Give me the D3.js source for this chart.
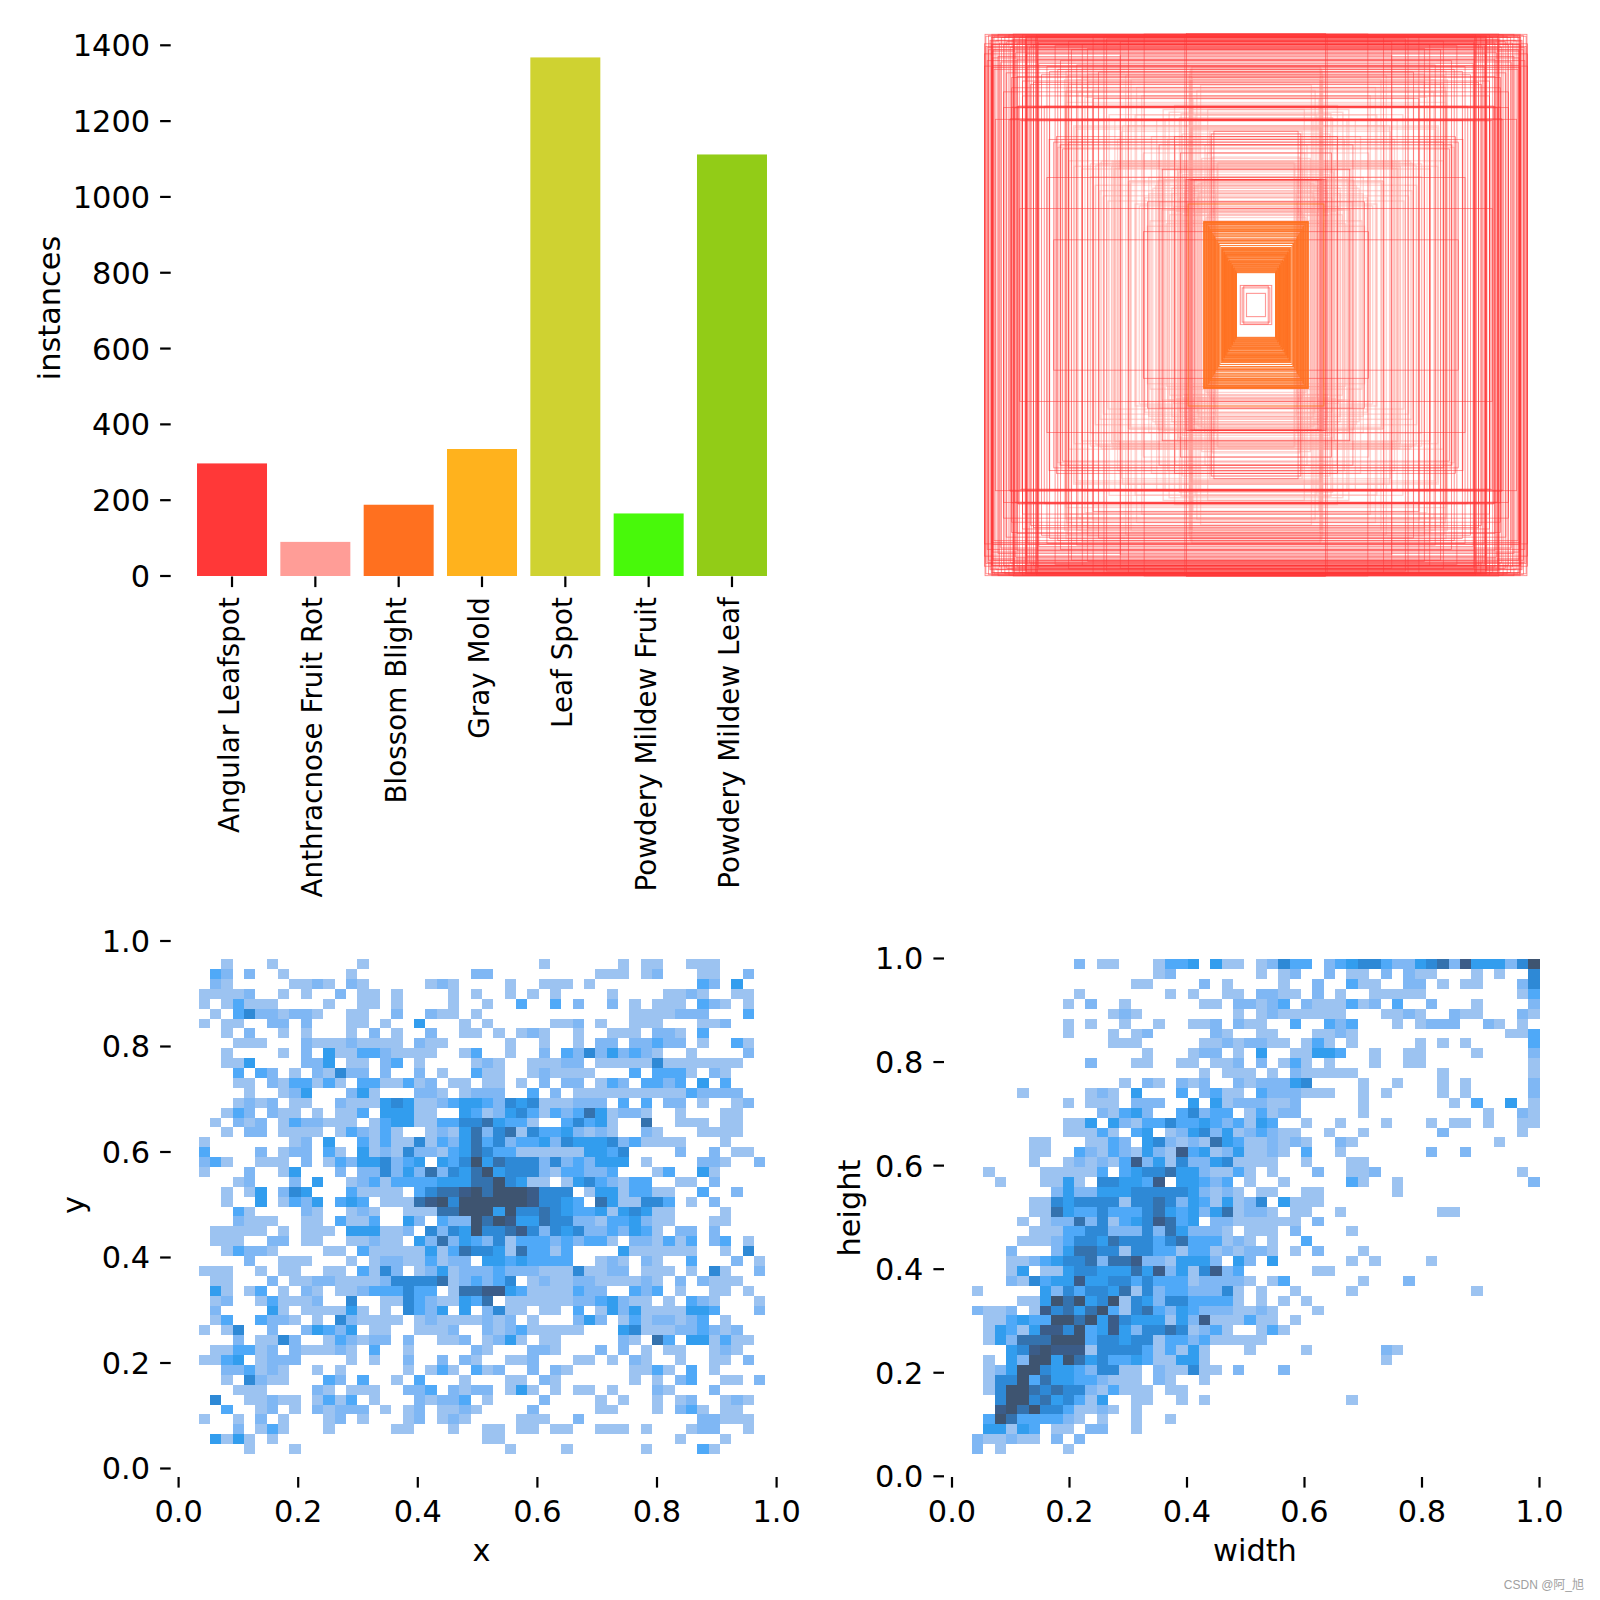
<!DOCTYPE html>
<html><head><meta charset="utf-8">
<script src="https://cdn.jsdelivr.net/npm/d3@7/dist/d3.min.js"></script>
<style>html,body{margin:0;background:#fff}svg{display:block}text{font-family:"DejaVu Sans";fill:#000}</style>
</head><body><svg id="c" width="1600" height="1600"></svg>
<script>
const classes=["Angular Leafspot","Anthracnose Fruit Rot","Blossom Blight","Gray Mold","Leaf Spot","Powdery Mildew Fruit","Powdery Mildew Leaf"];
const instances=[297,90,188,335,1368,165,1112];
const barColors=["#ff3838","#ff9d97","#ff701f","#ffb21d","#cfd231","#48f90a","#92cc17"];
const barTicks=[0,200,400,600,800,1000,1200,1400];
const unitTicks=[0,0.2,0.4,0.6,0.8,1];
const levels=[1,2,3,4,5,6,7,8];
const levelColors=["#9cc3f1","#7fb7f4","#4fa9f8","#329dee","#2e89d6","#3472ae","#3b5c88","#3e5470"];

// box sizes, thousandths of image width / height
const redBoxes=[[998,997],[995,990],[990,948],[985,992],[980,975],[975,985],[972,935],[970,960],[968,940],[965,990],[958,975],[950,997],[945,965],[938,985],[930,960],[925,990],[918,970],[910,995],[905,950],[898,980],[894,998],[892,945],[890,990],[885,930],[880,965],[872,985],[860,995],[850,975],[848,990],[846,925],[844,960],[840,880],[835,950],[828,990],[820,960],[812,985],[808,995],[806,940],[804,905],[802,970],
[973,997],[971,992],[969,985],[974,960],[976,972],[893,978],[891,968],[847,990],[845,982],[843,955],[807,962],[805,988],[975,875],[1000,880],[990,900],[970,910],[880,842],[820,820],[930,785],[900,800],[860,770],[760,860],[720,900],[680,940],[640,960],[600,990],[550,980],[500,970],[412,998],[262,997],[256,1000],[560,990],[470,985],
[900,729],[880,731],[860,728],[930,727],[820,730],[780,732],[700,730],[890,726],[875,733],[960,684],[910,682],[870,680],[850,683],[800,681],[760,680],[640,684],[905,686],[865,678],[745,240],[770,470],[600,760],[500,920],[357,590],[300,620],[278,560],[414,270],[400,380],[345,500],[870,355],[1000,925],[985,940],[950,915],[880,905],[800,890],[740,955],[690,972],[620,945],[1000,962],[995,952],[970,882],[965,868],[940,895],[920,855],[900,838],[860,825],[830,812],[790,848],[770,878],[730,868],[660,884],[580,858],
[155,640],[165,630],[228,461],[236,462],[243,460],[250,461],[258,462],[762,610],[745,600],[735,620],[720,590],[712,575],[690,600]];
const pinkBoxes=[[236,877],[240,870],[244,862],[238,855],[246,848],[235,838],[242,830],[237,655],[241,650],[236,645],[140,525],[143,520],[465,458],[470,455],[462,450],[290,505],[288,498],[285,490],[530,530],[524,526],[518,520],[512,514],[506,508],[532,510],[522,502],[700,790],[660,830],[690,770],[640,800],[620,850],[680,812],[655,785],[630,765],[600,740],[667,655],[672,660],[660,648],[724,590],[730,580],[715,610],[578,522],[570,530],[590,515],[610,520],[410,395],[395,410],[380,430],[370,440],[445,372],[430,365],[420,355],[300,440],[310,430],[270,480],[260,470],[250,610],[224,700],[210,680],[178,720],[395,470],[350,498],[340,470],[360,460],[355,380],[348,350],[390,310],[400,290],[180,560],[190,470],[200,540],[170,640],[165,610],[282,690],[276,705],[300,735],[320,710],[335,684],
[340,462],[330,300],[325,350],[318,332],[310,411],[303,362],[296,345],[280,395],[275,341],[268,330],[262,420],[255,380],[248,301],[226,380],[222,342],[216,398],[206,356],[210,415],[200,452],[214,446],[226,436],
[700,861],[695,845],[705,830],[690,816],[698,801],[701,783],[702,746],[640,871],[641,836],[620,822],[602,792],[580,762],[560,731],[541,701],[520,682],[492,660],[480,846],[460,832],[440,801],[421,771],
[690,531],[670,511],[642,501],[610,472],[592,441],[575,421],[562,402],[545,383],[510,610],[495,640],[472,660],[445,700],[415,560],[385,620],[366,680],[342,720],[325,610],[298,590],[272,630],[245,720],[232,760],[218,790],[204,810],[188,590],[172,500],[162,545],[150,470],[148,410],[152,380],[160,356],[170,345],[176,335],[184,322],
[45,70],[51,63],[58,72],[35,43]];
const orangeBoxes=[[72,119],[74,124],[75,128],[78,131],[80,136],[81,139],[84,141],[86,146],[87,149],[90,151],[92,156],[93,158],[96,163],[98,165],[100,169],[103,173],[104,176],[106,179],[109,182],[110,186],[112,189],[115,191],[116,195],[118,198],[121,201],[122,205],[124,207],[126,209],[73,121],[77,126],[83,134],[89,143],[95,154],[101,160],[107,171],[113,184],[119,193],[125,203],[129,212],[133,219],[136,227],[138,228],[141,233],[143,238],[146,239],[149,244],[151,251],[153,254],[156,258],[158,262],[161,265],[163,271],[165,274],[168,278],[170,281],[172,286],[175,290],[177,295],[180,296],[182,299],[184,302],[187,303],[189,305],[191,306],[193,307],[250,372]];

const leftRows=[
"0010001000 0000100000 0000000000 1000000101 1001110000",
"0320200100 0001000000 0000220000 0000011101 2000110020",
"0210000011 2102100000 1210000100 1110100000 0000320400",
"1111200101 0020110100 0010100101 0100001000 0112100110",
"1013111000 0100110100 0010010030 0302002010 1110321010",
"0103522122 1001100200 2110100000 0000000011 1122200030",
"1011002202 0001101004 0001010000 0112010011 1000112000",
"0010200101 0001020100 2001101012 1001001110 2210300000",
"0001110002 1112111102 1100000100 1001022022 3220100310",
"0010000102 0411332111 1001300100 2032524232 1001000020",
"0011400002 2401102301 0000121001 1122011111 5111111100",
"0003032010 2152202002 0100311001 2111100030 3331021000",
"0001102133 1310331131 2011011010 2022013203 3230403000",
"0000100124 0002410002 2101222003 0201111111 1113222200",
"0001212011 0021114541 1234432545 1112220303 0220100120",
"0013202110 1011304441 1004312453 1323641221 0010001100",
"0102120132 2111013441 1335564331 0035341006 0011101100",
"0010220111 1013213100 1214625615 3342121002 1000111100",
"1000000012 0400313115 1324635233 4254445231 1110001000",
"3000020122 0310412152 2134653311 1111443500 0020020110",
"2310011102 0132445234 0435846555 2523244401 0000221002",
"1000200140 0020225242 6254684555 2133223000 1300410000",
"0001200020 4001231333 3444668541 1014532133 0011020000",
"0010140254 0003111103 5667868887 5550144133 1100300200",
"0010040132 4034301116 7858888887 5543064115 5301020000",
"0003100002 1001210011 1668884855 6543341454 1100001000",
"0002111001 1031130042 0322868744 6552213342 1100011000",
"0111110101 1104441120 5254855675 2545223243 1022020000",
"0111002201 1001121104 2624325133 3232331022 1313023010",
"0013221000 0110311111 4136554163 3130000411 1111001050",
"0000200111 0001012211 3122044343 3330012102 1003000201",
"1110010110 0110315201 2412223222 1115112201 1101051002",
"0110002011 2211112555 5612323501 2112211112 1020211100",
"0410130102 1011233353 3016677431 1113220032 3010011010",
"0120013111 2005001153 2114360111 1112234211 0103210001",
"0200004101 1114101053 2404025110 1103014241 1114430002",
"0130032210 1052111101 2111121201 0002420131 2212301000",
"1015002002 4324011001 1120021231 1111000451 1122321200",
"0002011520 0132122020 0112012410 1100000210 6304413110",
"0113312021 1121030010 0000210002 2100020201 0110012100",
"1134012220 0001010020 0202100112 0001101021 0010011020",
"0022312100 1010000010 1310312002 0210000011 3103010000",
"0010521100 0320300103 0001000110 2100000010 1023001102",
"0001110000 2101110022 3021220141 0101101000 2100020000",
"0500112110 1313010002 1223010000 2000010100 1012001210",
"0030012010 2122201012 0112100002 0000011000 1023101100",
"1001020100 0120100012 0121000011 1002000000 0000221110",
"0002013100 0100000110 0010011011 0110011101 0001220010",
"0414101000 0000000000 0000011000 0000000000 0010001000",
"0000100010 0000000000 0000000100 0010000001 0000310000"];

const rightRows=[
"0000000002 0110001334 0411012533 0234553224 5627444258",
"0000000000 0000001200 0000010120 0201102021 1000101005",
"0000000000 0000110000 2010000100 2003110022 0101100025",
"0000000001 0000000101 0011022110 2010011111 0000000013",
"0000000010 2001000000 1102212302 1113120300 2000100002",
"0000000000 0012100000 0001012111 1110001121 0021100021",
"0000000010 1001001001 1202110030 0323000101 2220021010",
"0000000010 0010120000 0210011000 1121000000 0000000113",
"0000000000 0011100000 1121221101 3101000001 0101000003",
"0000000000 0000010001 2201040011 4430010011 0000100002",
"0000000000 2000110011 0112020131 0100010011 0000000001",
"0000000000 0000000000 1011101021 1111000000 0100000001",
"0000000000 0001021021 2002122245 0000100100 0101000002",
"0000100000 1210400030 2311032221 1100101000 0101000002",
"0000000010 1110222004 0412221120 0000100000 0010300401",
"0000000000 0213420035 2330131220 0000100000 0000010021",
"0000000011 4042133533 4323143001 0010001000 1011010011",
"0000000011 1310340124 5241232110 0100100000 0200000010",
"0000011000 1132045212 1643112121 0021000000 0000001000",
"0000011003 2132142173 4124112103 0010000000 2002000000",
"0000010012 1213724152 2451111001 0001100000 0000000000",
"0100001111 1303455644 2113101000 2001120000 0000000010",
"0010001141 0554437044 3230100100 0003100100 0000000002",
"0000000242 2444555554 2121011001 1000000100 0000000000",
"0000011545 5551556524 3141250411 1000000000 0000000000",
"0000011643 3533356434 2461221011 0010000000 0110000000",
"0000101226 2513457634 0221111110 2000000000 0000000000",
"0000011133 5522252642 2210111020 0001000000 0000000000",
"0000111235 5465553563 3312101003 0000000000 0000000000",
"0002000246 6551553313 3121221010 2000100000 0000000000",
"0001123455 6266722144 4204204000 0001010000 1000000000",
"0001401145 5444647241 5723000000 1100000000 0000000000",
"0002153447 4455353331 2222101300 0000100020 0000000000",
"1000004253 5546152332 2251010010 0001000000 0000100000",
"0000114868 4581542553 3331010101 0000000000 0000000000",
"2112017564 6831563243 2221121000 1000000000 0000000000",
"0113433886 8475444142 7111311010 0000000000 0000000000",
"0143147758 3474255651 2310013100 0000000000 0000000000",
"0142666888 3554551332 3111110000 0000000000 0000000000",
"0004578777 1555531314 1000100001 0000002100 0000000000",
"0104288486 4533431144 1000000000 0000001000 0000000000",
"0124885443 2551102115 1102000200 0000000000 0000000000",
"0155836443 3211102100 1000000000 0000000000 0000000000",
"0158865655 2131110110 0000000000 0000000000 0000000000",
"0058856453 1400110010 1000000000 0001000000 0000000000",
"0078685531 1210100000 0000000000 0000000000 0000000000",
"0386333321 0100100100 0000000000 0000000000 0000000000",
"0441430110 2200100000 0000000000 0000000000 0000000000",
"2112110202 0000000000 0000000000 0000000000 0000000000",
"2010000010 0000000000 0000000000 0000000000 0000000000"];

const svg=d3.select("#c");
const FS=30.4,FS_CAT=27.8,TICK=10.6,PAD=10,PADX=12.5;
function styleAxis(g,fs){
  g.select(".domain").remove();
  g.selectAll(".tick line").attr("stroke","#000").attr("stroke-width",2.2);
  g.selectAll(".tick text").attr("font-size",fs).attr("font-family",'"DejaVu Sans"').attr("fill","#000");
}
function axisLabel(text,x,y,rot){
  const t=svg.append("text").attr("font-size",FS).attr("text-anchor","middle").text(text);
  t.attr("transform",`translate(${x},${y})`+(rot?" rotate(-90)":""));
}
/* bars */
const barX=d3.scaleBand().domain(classes).range([190.35,773.65]).paddingInner(0.16).paddingOuter(0.08);
const barY=d3.scaleLinear().domain([0,1400]).range([576,45.3]);
svg.append("g").selectAll("rect").data(classes).join("rect")
  .attr("x",d=>barX(d)).attr("width",barX.bandwidth())
  .attr("y",(d,i)=>barY(instances[i])).attr("height",(d,i)=>barY(0)-barY(instances[i]))
  .attr("fill",(d,i)=>barColors[i]);
const gy0=svg.append("g").attr("transform","translate(170.7,0)")
  .call(d3.axisLeft(barY).tickValues(barTicks).tickFormat(d3.format("d")).tickSize(TICK).tickPadding(PAD).offset(0));
styleAxis(gy0,FS);
gy0.selectAll(".tick text").attr("dy","0.36em");
const gx0=svg.append("g").attr("transform","translate(0,576.5)")
  .call(d3.axisBottom(barX).tickSize(TICK).offset(0));
styleAxis(gx0,FS_CAT);
gx0.selectAll(".tick text").attr("transform","rotate(-90)").attr("text-anchor","end")
  .attr("x",-TICK-PAD).attr("y",7).attr("dy",0);
axisLabel("instances",60,308,true);

/* label boxes */
const cx=1256,cy=305;
const size=d3.scaleLinear().domain([0,1000]).range([0,543]);
function boxes(list,color,sw,op){
  svg.append("g").selectAll("rect").data(list).join("rect")
    .attr("x",d=>cx-size(d[0])/2).attr("y",d=>cy-size(d[1])/2)
    .attr("width",d=>size(d[0])).attr("height",d=>size(d[1]))
    .attr("fill","none").attr("stroke",color).attr("stroke-width",sw).attr("stroke-opacity",op);
}
boxes(pinkBoxes,barColors[1],1.3,0.45);
boxes(redBoxes,barColors[0],0.8,0.65);
boxes(orangeBoxes,barColors[2],1,0.9);
boxes(pinkBoxes.slice(-4),barColors[0],0.7,0.5);

/* histograms */
function heat(rows,x,y,xb,yb){
  const cols=d3.scaleBand().domain(d3.range(50)).range([x(xb[0]),x(xb[1])]);
  const rws=d3.scaleBand().domain(d3.range(50)).range([y(yb[1]),y(yb[0])]);
  const color=d3.scaleOrdinal().domain(levels).range(levelColors);
  const cells=rows.flatMap((r,j)=>Array.from(r.replace(/ /g,"")).map((c,i)=>({i,j,v:+c}))).filter(d=>d.v>0);
  svg.append("g").attr("shape-rendering","crispEdges").selectAll("rect").data(cells).join("rect")
    .attr("x",d=>cols(d.i)).attr("y",d=>rws(d.j))
    .attr("width",cols.bandwidth()).attr("height",rws.bandwidth())
    .attr("fill",d=>color(d.v));
}
function unitAxes(x,y,ax,ay){
  const fx=d3.format(".1f");
  const gx=svg.append("g").attr("transform",`translate(0,${ay})`)
    .call(d3.axisBottom(x).tickValues(unitTicks).tickFormat(fx).tickSize(TICK).tickPadding(PADX).offset(0));
  styleAxis(gx,FS);
  const gy=svg.append("g").attr("transform",`translate(${ax},0)`)
    .call(d3.axisLeft(y).tickValues(unitTicks).tickFormat(fx).tickSize(TICK).tickPadding(PAD).offset(0));
  styleAxis(gy,FS);
  gy.selectAll(".tick text").attr("dy","0.36em");
}
const lx=d3.scaleLinear().domain([0,1]).range([178.6,776.6]);
const ly=d3.scaleLinear().domain([0,1]).range([1468.5,941]);
heat(leftRows,lx,ly,[0.0333,0.9812],[0.0275,0.9655]);
unitAxes(lx,ly,170.7,1477);
axisLabel("x",481.6,1561,false);
axisLabel("y",84,1205,true);

const rx=d3.scaleLinear().domain([0,1]).range([952,1539.5]);
const ry=d3.scaleLinear().domain([0,1]).range([1476.3,958.5]);
heat(rightRows,rx,ry,[0.0337,1],[0.0431,0.9984]);
unitAxes(rx,ry,944,1477);
axisLabel("width",1255,1561,false);
axisLabel("height",860,1208,true);

svg.append("text").attr("x",1584).attr("y",1589).attr("text-anchor","end")
  .attr("font-size",12).style("font-family",'"Liberation Sans","Noto Sans CJK SC"').style("fill","#a0a0a0").text("CSDN @阿_旭");
</script></body></html>
